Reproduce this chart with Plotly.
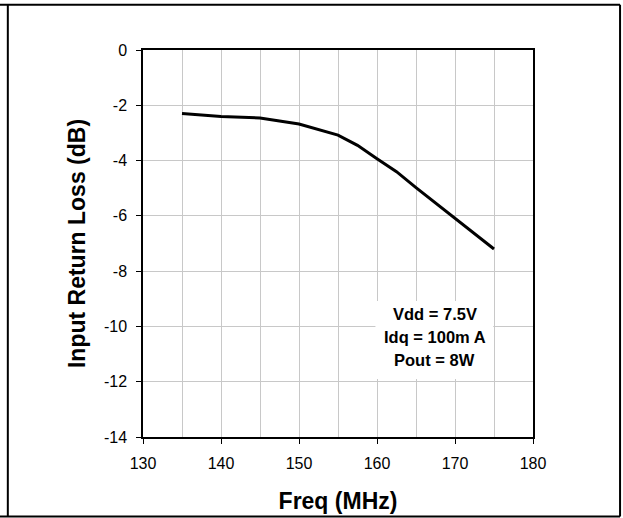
import plotly.graph_objects as go

# Data
freq_mhz = [135, 140, 145, 150, 155, 157.5, 160, 162.5, 165, 170, 175]
input_return_loss_db = [-2.30, -2.41, -2.46, -2.68, -3.08, -3.45, -3.93, -4.40, -4.98, -6.08, -7.20]

x_ticks = [130, 140, 150, 160, 170, 180]
y_ticks = [0, -2, -4, -6, -8, -10, -12, -14]

note_lines = ["Vdd = 7.5V", "Idq = 100m A", "Pout = 8W"]
note_y = [-9.54, -10.38, -11.21]
note_x = 167.4

FONT = "Arial, 'Liberation Sans', sans-serif"
GRID = "#c8c8c8"

fig = go.Figure()
fig.add_trace(go.Scatter(
    x=freq_mhz, y=input_return_loss_db, mode="lines",
    line=dict(color="black", width=3),
    showlegend=False, hoverinfo="skip",
))

# white box behind the note (hides gridlines)
fig.add_shape(type="rect", xref="x", yref="y", x0=159.8, x1=174.9, y0=-11.9, y1=-9.08,
              fillcolor="white", line=dict(width=0), layer="between")

for txt, yy in zip(note_lines, note_y):
    fig.add_annotation(x=note_x, y=yy, xref="x", yref="y", text=f"<b>{txt}</b>",
                       showarrow=False, font=dict(family=FONT, size=16.5, color="black"),
                       xanchor="center", yanchor="middle")

# outer frame (page border lines)
frame_left, frame_right = -0.3466, 1.2232
frame_bottom, frame_top = -0.2056, 1.1171
page_left = -0.3667
for x0, y0, x1, y1 in [
    (page_left, frame_top, frame_right, frame_top),
    (page_left, frame_bottom, frame_right, frame_bottom),
    (frame_left, frame_bottom, frame_left, frame_top),
    (frame_right, frame_bottom, frame_right, frame_top),
]:
    fig.add_shape(type="line", xref="paper", yref="paper", x0=x0, y0=y0, x1=x1, y1=y1,
                  line=dict(color="black", width=2), layer="above")

fig.update_layout(
    width=623, height=518, autosize=False,
    margin=dict(l=143, r=90, t=50, b=81),
    paper_bgcolor="white", plot_bgcolor="white",
    font=dict(family=FONT, color="black"),
    xaxis=dict(
        range=[130, 180], tickvals=x_ticks, ticktext=[str(v) for v in x_ticks],
        ticks="outside", ticklen=5, tickwidth=1, tickcolor="black",
        tickfont=dict(family=FONT, size=16, color="black"),
        showgrid=True, gridcolor=GRID, gridwidth=1,
        minor=dict(dtick=5, tick0=130, showgrid=True, gridcolor=GRID, gridwidth=1, ticks=""),
        showline=True, linecolor="black", linewidth=1.5, mirror=True,
        zeroline=False, ticklabelstandoff=6,
        title=dict(text="<b>Freq (MHz)</b>", font=dict(family=FONT, size=23, color="black"), standoff=22),
        automargin=False,
    ),
    yaxis=dict(
        range=[-14, 0], tickvals=y_ticks, ticktext=[str(v) for v in y_ticks],
        ticks="outside", ticklen=5, tickwidth=1, tickcolor="black",
        tickfont=dict(family=FONT, size=16, color="black"),
        showgrid=True, gridcolor=GRID, gridwidth=1,
        showline=True, linecolor="black", linewidth=1.5, mirror=True,
        zeroline=False, ticklabelstandoff=6,
        title=dict(text="<b>Input Return Loss (dB)</b>", font=dict(family=FONT, size=23, color="black"), standoff=12),
        automargin=False,
    ),
)

fig.write_html("out.html", config={"displayModeBar": False},
               post_script="document.body.style.margin='0px';document.body.style.overflow='hidden';")
